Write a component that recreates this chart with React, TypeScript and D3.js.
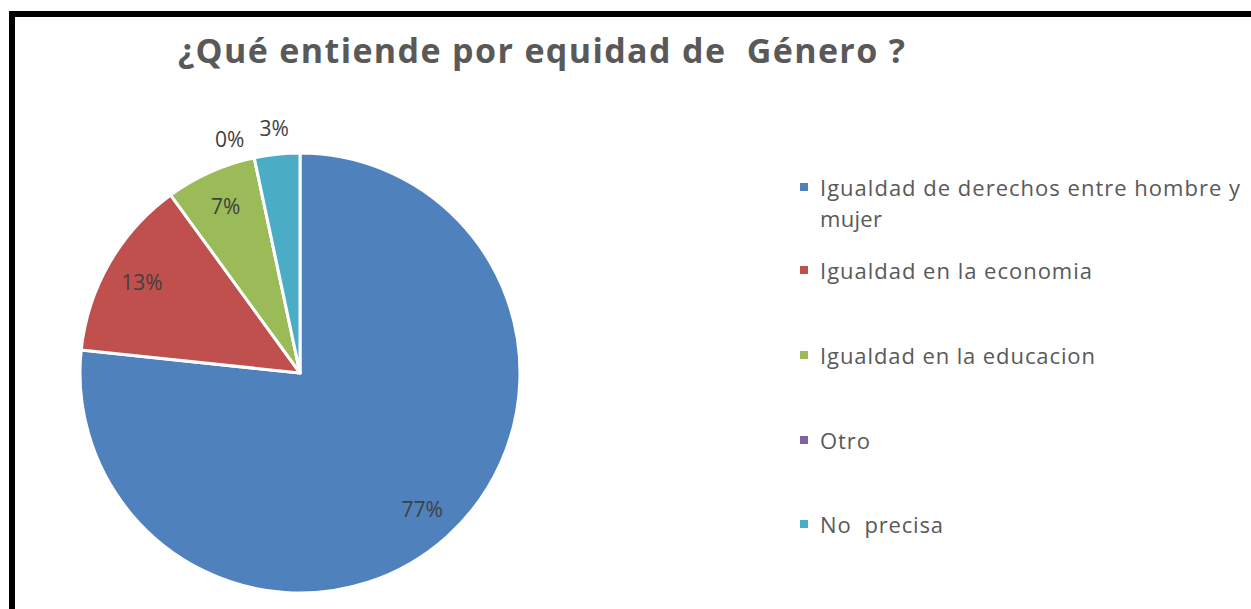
import React from "react";
import * as d3 from "d3";

const title = "¿Qué entiende por equidad de  Género ?";
const categories = [
  "Igualdad de derechos entre hombre y mujer",
  "Igualdad en la economia",
  "Igualdad en la educacion",
  "Otro",
  "No  precisa",
];
const counts = [23, 4, 2, 0, 1];
const percentLabels = ["77%", "13%", "7%", "0%", "3%"];
const colors = ["#4F81BD", "#C0504D", "#9BBB59", "#8064A2", "#4BACC6"];
const legendLines = [
  ["Igualdad de derechos entre hombre y", "mujer"],
  ["Igualdad en la economia"],
  ["Igualdad en la educacion"],
  ["Otro"],
  ["No  precisa"],
];
const legendWidths = [[420, 62], [272], [275], [50], [123]];

const W = 1251;
const H = 609;
const cx = 300;
const cy = 373;
const R = 220;
const FONT = "'Open Sans', Lato, sans-serif";

export default function App() {
  const pie = d3.pie<number>().sort(null).value((d) => d);
  const arcs = pie(counts);
  const arc = d3.arc<d3.PieArcDatum<number>>().innerRadius(0).outerRadius(R);
  const labelArc = d3
    .arc<d3.PieArcDatum<number>>()
    .innerRadius(R * 0.83)
    .outerRadius(R * 0.83);
  const outerLabelArc = d3
    .arc<d3.PieArcDatum<number>>()
    .innerRadius(R * 1.12)
    .outerRadius(R * 1.12);

  const labelPos = (i: number, a: d3.PieArcDatum<number>): [number, number] => {
    if (i === 3) {
      const c = outerLabelArc.centroid(a);
      return [c[0] - 19, c[1] + 7];
    }
    if (i === 4) {
      const c = outerLabelArc.centroid(a);
      return [c[0], c[1]];
    }
    const c = labelArc.centroid(a);
    return [c[0], c[1]];
  };

  const legendY = [187, 270, 355, 440, 524];
  const lineGap = 31;

  return (
    <svg
      width={W}
      height={H}
      style={{ position: "absolute", left: 0, top: 0, background: "#fff" }}
    >
      <rect x={0} y={0} width={W} height={H} fill="#fff" />
      <rect x={9} y={11} width={W - 9} height={6} fill="#000" />
      <rect x={9} y={11} width={6} height={H - 11} fill="#000" />
      <text
        x={178}
        y={63}
        textLength={727}
        lengthAdjust="spacing"
        fontFamily={FONT}
        fontWeight="bold"
        fontSize={34}
        fill="#595959"
        style={{ whiteSpace: "pre" }}
      >
        {title}
      </text>
      <g transform={`translate(${cx},${cy})`}>
        {arcs.map((a, i) => (
          <path
            key={categories[i]}
            d={arc(a) || ""}
            fill={colors[i]}
            stroke="#fff"
            strokeWidth={3}
            strokeLinejoin="round"
          />
        ))}
        {arcs.map((a, i) => {
          const [x, y] = labelPos(i, a);
          return (
            <text
              key={"l" + i}
              x={x}
              y={y}
              textAnchor="middle"
              dominantBaseline="central"
              fontFamily={FONT}
              fontSize={21}
              fill="#404040"
            >
              {percentLabels[i]}
            </text>
          );
        })}
      </g>
      {legendLines.map((lines, i) => (
        <g key={"lg" + i}>
          <rect x={800} y={legendY[i] - 4} width={8} height={8} fill={colors[i]} />
          {lines.map((t, j) => (
            <text
              key={j}
              x={820}
              y={legendY[i] + j * lineGap}
              dominantBaseline="central"
              textLength={legendWidths[i][j]}
              lengthAdjust="spacing"
              fontFamily={FONT}
              fontSize={22}
              fill="#595959"
              style={{ whiteSpace: "pre" }}
            >
              {t}
            </text>
          ))}
        </g>
      ))}
    </svg>
  );
}
